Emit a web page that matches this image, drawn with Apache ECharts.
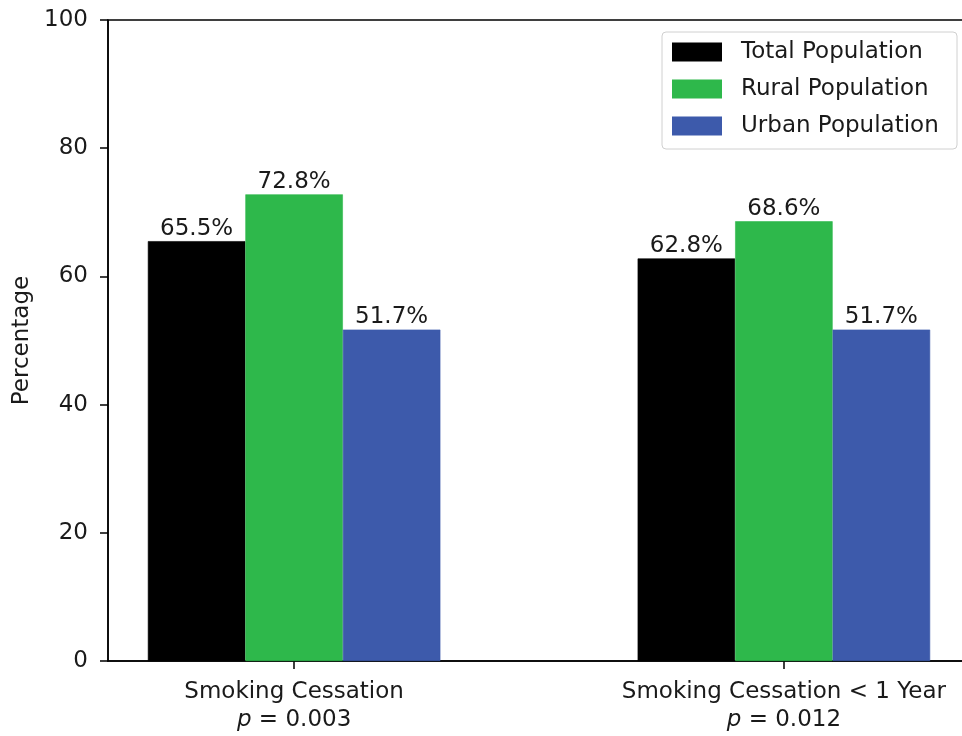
<!DOCTYPE html>
<html>
<head>
<meta charset="utf-8">
<script src="https://cdn.jsdelivr.net/npm/echarts@6/dist/echarts.min.js"></script>
<style>
  html, body { margin: 0; padding: 0; background: #fff; }
  #chart { width: 962px; height: 736px; }
</style>
</head>
<body>
<div id="chart"></div>
<script>
// Smoking cessation rates by population group
const categories = ['Smoking Cessation', 'Smoking Cessation < 1 Year'];
const pValues = ['0.003', '0.012'];
const seriesNames = ['Total Population', 'Rural Population', 'Urban Population'];
const totalValues = [65.5, 62.8];
const ruralValues = [72.8, 68.6];
const urbanValues = [51.7, 51.7];
const yTicks = [0, 20, 40, 60, 80, 100];

const colors = ['#000000', '#2eb84b', '#3d5aab'];
const FONT = 'DejaVu Sans';
const FS = 23;
const TEXT = '#1a1a1a';

const chart = echarts.init(document.getElementById('chart'), null, { renderer: 'canvas' });

function makeSeries(name, values, color) {
  return {
    name: name,
    type: 'bar',
    barWidth: 97.5,
    barGap: '0%',
    // thin same-colour outline closes the antialiasing seam between adjacent bars
    itemStyle: { color: color, borderColor: color, borderWidth: 0.6 },
    data: values.map((v, i) => [i, v]),
    label: {
      show: true,
      position: 'top',
      distance: 1,
      color: TEXT,
      fontFamily: FONT,
      fontSize: FS,
      formatter: p => p.value[1].toFixed(1) + '%'
    }
  };
}

chart.setOption({
  animation: false,
  backgroundColor: '#ffffff',
  textStyle: { fontFamily: FONT },
  grid: {
    left: 108, right: -8, top: 20, bottom: 75,
    outerBoundsMode: 'none',
    containLabel: false,
    show: true, borderColor: '#000', borderWidth: 1.5, backgroundColor: 'transparent'
  },
  legend: {
    orient: 'vertical',
    left: 662,
    top: 32,
    icon: 'rect',
    itemWidth: 48,
    itemHeight: 17,
    itemGap: 14,
    padding: [8.5, 10, 11.5, 10],
    backgroundColor: 'rgba(255,255,255,0.8)',
    borderColor: '#d0d0d0',
    borderWidth: 1,
    borderRadius: 4,
    textStyle: {
      fontFamily: FONT, fontSize: FS, color: TEXT,
      lineHeight: 23, width: 206, padding: [0, 0, 0, 15]
    },
    data: seriesNames
  },
  xAxis: {
    type: 'value',
    min: -0.38,
    max: 1.38,
    splitLine: { show: false },
    axisLine: { show: true, onZero: false, lineStyle: { color: '#000', width: 1.5 } },
    axisTick: { show: true, length: 8, lineStyle: { color: '#000', width: 1.5 }, customValues: [0, 1] },
    axisLabel: {
      customValues: [0, 1],
      margin: 17,
      color: TEXT,
      fontFamily: FONT,
      fontSize: FS,
      lineHeight: 28,
      formatter: v => {
        const i = Math.round(v);
        return categories[i] + '\n{i|p}{n| = ' + pValues[i] + '}';
      },
      rich: {
        i: { fontStyle: 'italic', fontFamily: FONT, fontSize: FS, color: TEXT, lineHeight: 28 },
        n: { fontFamily: FONT, fontSize: FS, color: TEXT, lineHeight: 28 }
      }
    }
  },
  yAxis: {
    type: 'value',
    min: yTicks[0],
    max: yTicks[yTicks.length - 1],
    interval: 20,
    name: 'Percentage',
    nameLocation: 'middle',
    nameGap: 73,
    nameTextStyle: { fontFamily: FONT, fontSize: FS, color: TEXT },
    splitLine: { show: false },
    axisLine: { show: true, onZero: false, lineStyle: { color: '#000', width: 1.5 } },
    axisTick: { show: true, length: 8, lineStyle: { color: '#000', width: 1.5 } },
    axisLabel: { margin: 20, color: TEXT, fontFamily: FONT, fontSize: FS }
  },
  series: [
    makeSeries(seriesNames[0], totalValues, colors[0]),
    makeSeries(seriesNames[1], ruralValues, colors[1]),
    makeSeries(seriesNames[2], urbanValues, colors[2])
  ]
});
</script>
</body>
</html>
